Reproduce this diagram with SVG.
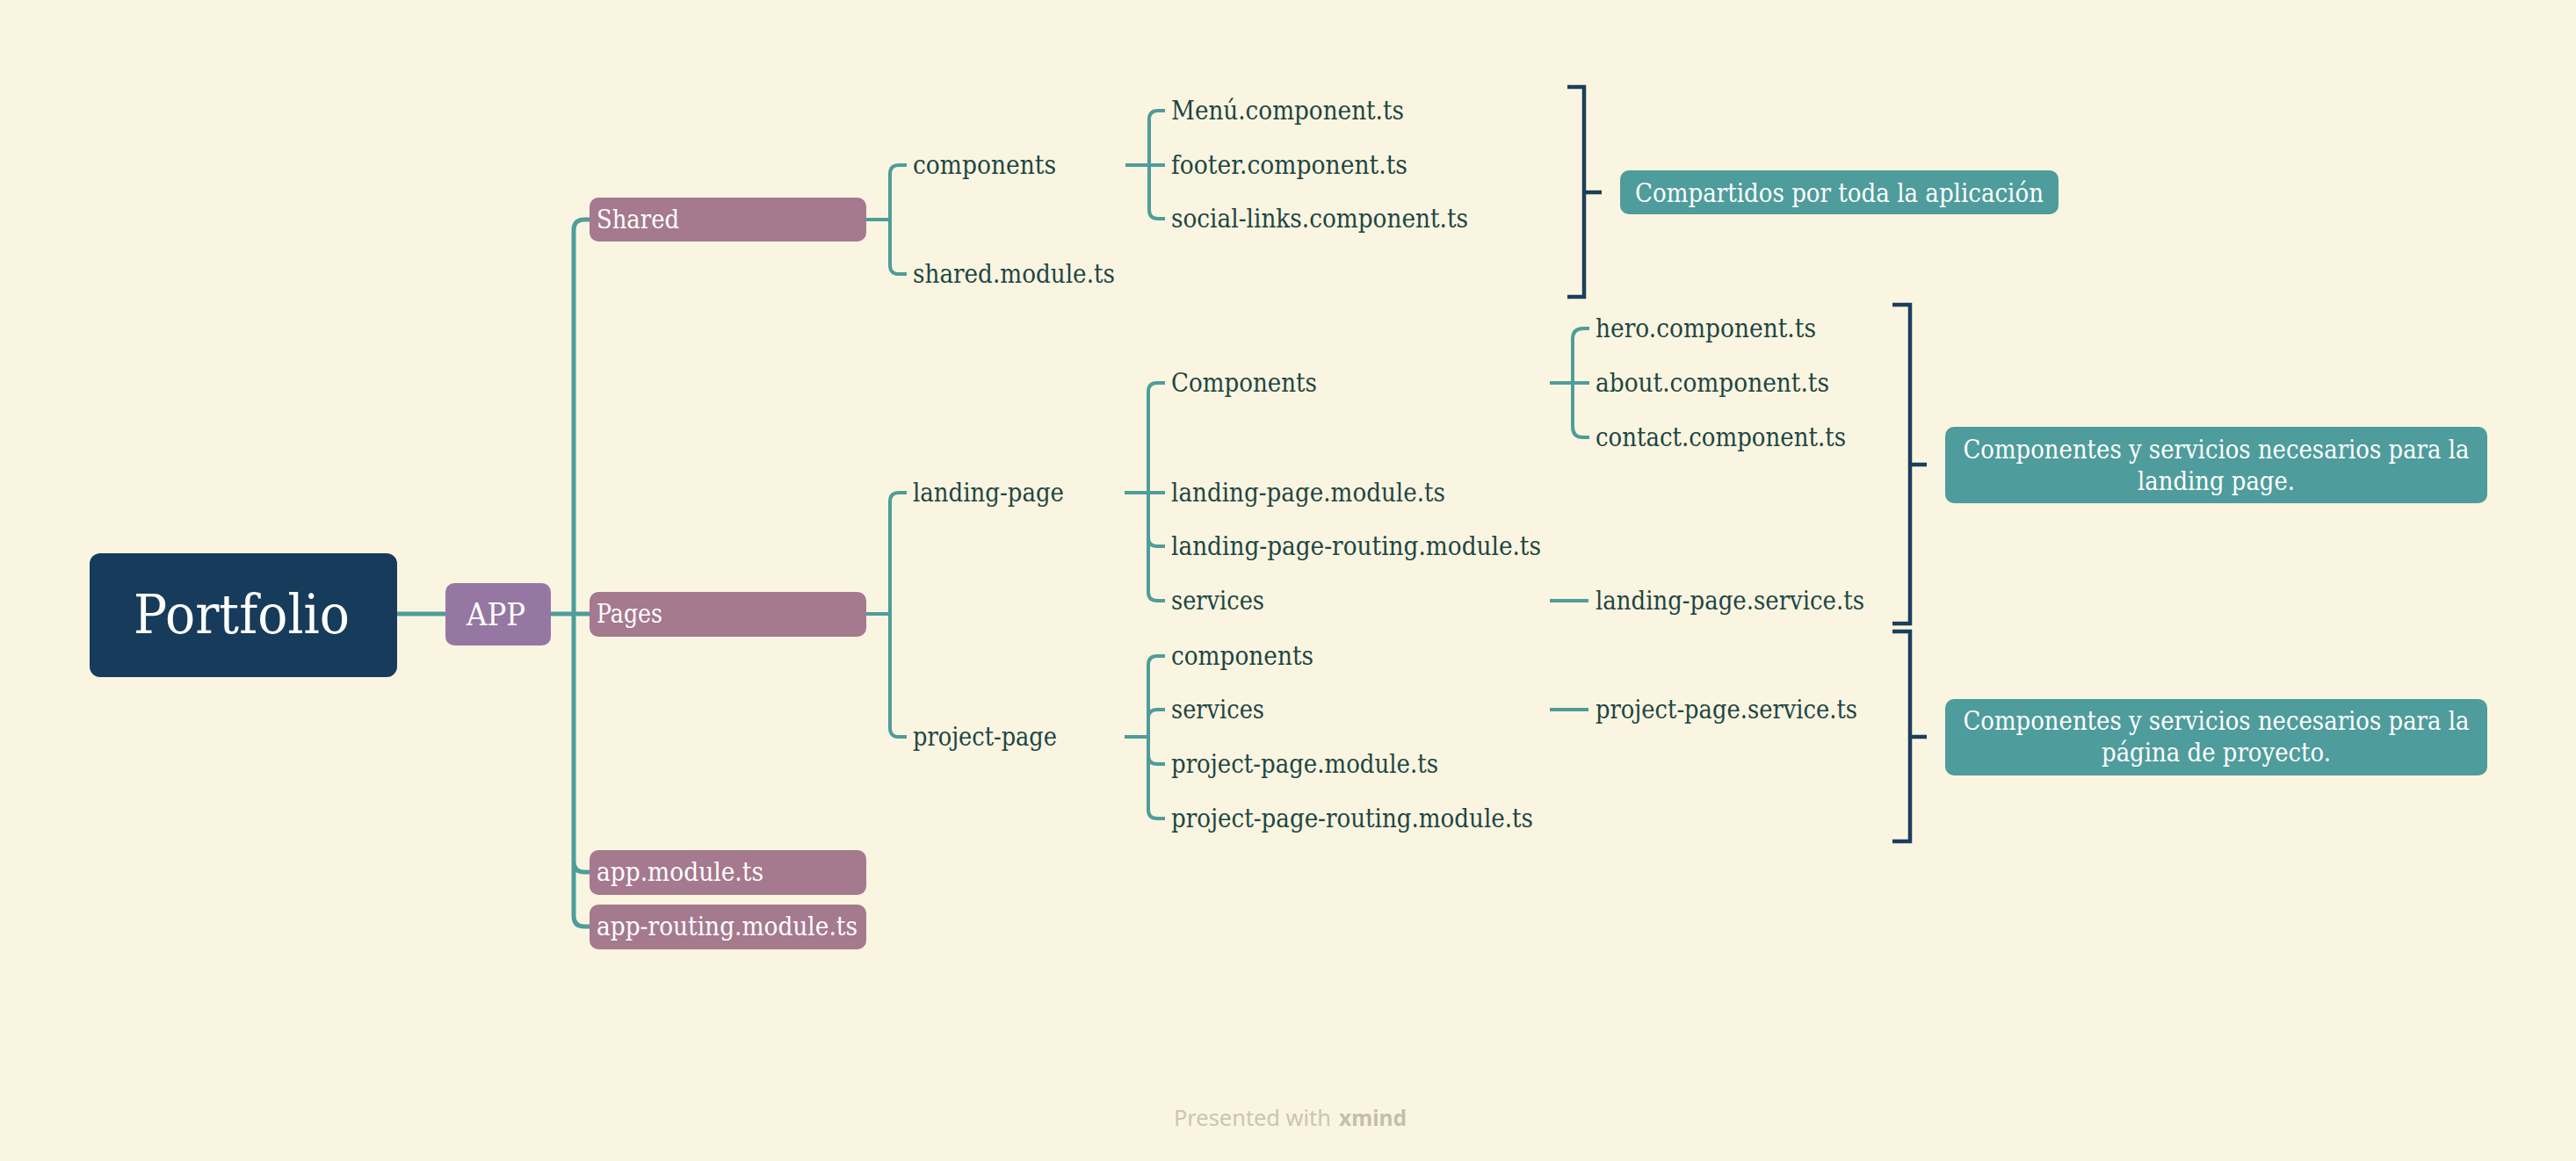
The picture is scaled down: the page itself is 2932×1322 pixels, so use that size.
<svg xmlns="http://www.w3.org/2000/svg" width="2932" height="1322" viewBox="0 0 2932 1322">
<style>
.t{font-family:"DejaVu Serif","Liberation Serif",serif;font-size:30px;fill:#1e4645}
.w{font-family:"DejaVu Serif","Liberation Serif",serif;fill:#ffffff}
.c1{fill:none;stroke:#4e9d9b;stroke-width:5}
.c2{fill:none;stroke:#4e9d9b;stroke-width:4}
.br{fill:none;stroke:#1b3e5c;stroke-width:4.5;stroke-linejoin:miter;stroke-linecap:butt}
.pb{fill:#a5798e}
.nb{fill:#4e9c9c}
</style>
<rect x="0" y="0" width="2932" height="1322" fill="#faf5e0"/>

<g id="connectors">
<path class="c1" d="M452,699 H507 M627,699 H653"/>
<path class="c1" d="M653,699 V262 Q653,250 665,250 H671 M653,699 H671 M653,699 V981 Q653,993 665,993 H671 M653,699 V1043 Q653,1055 665,1055 H671"/>
<path class="c2" d="M985,250 H1013 M1013,250 V198 Q1013,188 1023,188 H1032 M1013,250 V302 Q1013,312 1023,312 H1032"/>
<path class="c2" d="M985,699 H1013 M1013,699 V571 Q1013,561 1023,561 H1032 M1013,699 V829 Q1013,839 1023,839 H1032"/>
<path class="c2" d="M1281,188 H1308 M1308,188 V136 Q1308,126 1318,126 H1326 M1308,188 H1326 M1308,188 V239 Q1308,249 1318,249 H1326"/>
<path class="c2" d="M1280,561 H1307 M1307,561 V446 Q1307,436 1317,436 H1326 M1307,561 H1326 M1307,561 V612 Q1307,622 1317,622 H1326 M1307,561 V674 Q1307,684 1317,684 H1326"/>
<path class="c2" d="M1280,839 H1307 M1307,839 V757 Q1307,747 1317,747 H1326 M1307,839 V818 Q1307,808 1317,808 H1326 M1307,839 V860 Q1307,870 1317,870 H1326 M1307,839 V922 Q1307,932 1317,932 H1326"/>
<path class="c2" d="M1764,436 H1790 M1790,436 V386 Q1790,374 1802,374 H1809 M1790,436 H1809 M1790,436 V486 Q1790,498 1802,498 H1809"/>
<path class="c2" d="M1764,684 H1808 M1764,808 H1808"/>
<path class="br" d="M1784,99 H1803 V338 H1784 M1803,219 H1823"/>
<path class="br" d="M2154,347 H2174 V710 H2154 M2174,529 H2193"/>
<path class="br" d="M2154,719 H2174 V958 H2154 M2174,839 H2193"/>
</g>

<g id="portfolio">
<rect x="102" y="630" width="350" height="141" rx="12" fill="#173b5a"/>
<text class="w" x="152" y="721" font-size="61" textLength="246" lengthAdjust="spacingAndGlyphs">Portfolio</text>
</g>
<g id="app">
<rect x="507" y="664" width="120" height="71" rx="10" fill="#9677a3"/>
<text class="w" x="531" y="712" font-size="36" textLength="67" lengthAdjust="spacingAndGlyphs">APP</text>
</g>
<g id="shared">
<rect class="pb" x="671" y="225" width="315" height="50" rx="10"/>
<text class="w" x="679" y="260" font-size="29" textLength="94" lengthAdjust="spacingAndGlyphs">Shared</text>
</g>
<g id="pages">
<rect class="pb" x="671" y="674" width="315" height="51" rx="10"/>
<text class="w" x="679" y="709" font-size="29" textLength="75" lengthAdjust="spacingAndGlyphs">Pages</text>
</g>
<g id="app-module">
<rect class="pb" x="671" y="968" width="315" height="51" rx="10"/>
<text class="w" x="679" y="1003" font-size="29" textLength="190" lengthAdjust="spacingAndGlyphs">app.module.ts</text>
</g>
<g id="app-routing-module">
<rect class="pb" x="671" y="1030" width="315" height="51" rx="10"/>
<text class="w" x="679" y="1065" font-size="29" textLength="297" lengthAdjust="spacingAndGlyphs">app-routing.module.ts</text>
</g>

<g id="shared-components"><text class="t" x="1039" y="198" textLength="163" lengthAdjust="spacingAndGlyphs">components</text></g>
<g id="shared-module"><text class="t" x="1039" y="322" textLength="230" lengthAdjust="spacingAndGlyphs">shared.module.ts</text></g>
<g id="landing-page"><text class="t" x="1039" y="571" textLength="172" lengthAdjust="spacingAndGlyphs">landing-page</text></g>
<g id="project-page"><text class="t" x="1039" y="849" textLength="164" lengthAdjust="spacingAndGlyphs">project-page</text></g>

<g id="menu-component"><text class="t" x="1333" y="136" textLength="265" lengthAdjust="spacingAndGlyphs">Menú.component.ts</text></g>
<g id="footer-component"><text class="t" x="1333" y="198" textLength="269" lengthAdjust="spacingAndGlyphs">footer.component.ts</text></g>
<g id="social-links-component"><text class="t" x="1333" y="259" textLength="338" lengthAdjust="spacingAndGlyphs">social-links.component.ts</text></g>

<g id="landing-components"><text class="t" x="1333" y="446" textLength="166" lengthAdjust="spacingAndGlyphs">Components</text></g>
<g id="landing-page-module"><text class="t" x="1333" y="571" textLength="312" lengthAdjust="spacingAndGlyphs">landing-page.module.ts</text></g>
<g id="landing-page-routing"><text class="t" x="1333" y="632" textLength="421" lengthAdjust="spacingAndGlyphs">landing-page-routing.module.ts</text></g>
<g id="landing-services"><text class="t" x="1333" y="694" textLength="106" lengthAdjust="spacingAndGlyphs">services</text></g>

<g id="project-components"><text class="t" x="1333" y="757" textLength="162" lengthAdjust="spacingAndGlyphs">components</text></g>
<g id="project-services"><text class="t" x="1333" y="818" textLength="106" lengthAdjust="spacingAndGlyphs">services</text></g>
<g id="project-page-module"><text class="t" x="1333" y="880" textLength="304" lengthAdjust="spacingAndGlyphs">project-page.module.ts</text></g>
<g id="project-page-routing"><text class="t" x="1333" y="942" textLength="412" lengthAdjust="spacingAndGlyphs">project-page-routing.module.ts</text></g>

<g id="hero-component"><text class="t" x="1816" y="384" textLength="251" lengthAdjust="spacingAndGlyphs">hero.component.ts</text></g>
<g id="about-component"><text class="t" x="1816" y="446" textLength="266" lengthAdjust="spacingAndGlyphs">about.component.ts</text></g>
<g id="contact-component"><text class="t" x="1816" y="508" textLength="285" lengthAdjust="spacingAndGlyphs">contact.component.ts</text></g>
<g id="landing-page-service"><text class="t" x="1816" y="694" textLength="306" lengthAdjust="spacingAndGlyphs">landing-page.service.ts</text></g>
<g id="project-page-service"><text class="t" x="1816" y="818" textLength="298" lengthAdjust="spacingAndGlyphs">project-page.service.ts</text></g>

<g id="note-shared">
<rect class="nb" x="1844" y="194" width="499" height="50" rx="10"/>
<text class="w" x="2093.5" y="229.5" font-size="29" text-anchor="middle" textLength="465" lengthAdjust="spacingAndGlyphs">Compartidos por toda la aplicación</text>
</g>
<g id="note-landing">
<rect class="nb" x="2214" y="486" width="617" height="87" rx="10"/>
<text class="w" x="2522.5" y="521.5" font-size="29" text-anchor="middle" textLength="576" lengthAdjust="spacingAndGlyphs">Componentes y servicios necesarios para la</text>
<text class="w" x="2522.5" y="557.5" font-size="29" text-anchor="middle" textLength="179" lengthAdjust="spacingAndGlyphs">landing page.</text>
</g>
<g id="note-project">
<rect class="nb" x="2214" y="796" width="617" height="87" rx="10"/>
<text class="w" x="2522.5" y="831" font-size="29" text-anchor="middle" textLength="576" lengthAdjust="spacingAndGlyphs">Componentes y servicios necesarios para la</text>
<text class="w" x="2522.5" y="867" font-size="29" text-anchor="middle" textLength="261" lengthAdjust="spacingAndGlyphs">página de proyecto.</text>
</g>

<g id="footer">
<text x="1336" y="1282" font-family="'Noto Sans','Open Sans',sans-serif" font-size="25" fill="#c9c6b1" textLength="179" lengthAdjust="spacingAndGlyphs">Presented with</text>
<text x="1524" y="1282" font-family="'Noto Sans','Open Sans',sans-serif" font-size="25" font-weight="bold" fill="#c3c0aa" textLength="77" lengthAdjust="spacingAndGlyphs">xmind</text>
</g>
</svg>
